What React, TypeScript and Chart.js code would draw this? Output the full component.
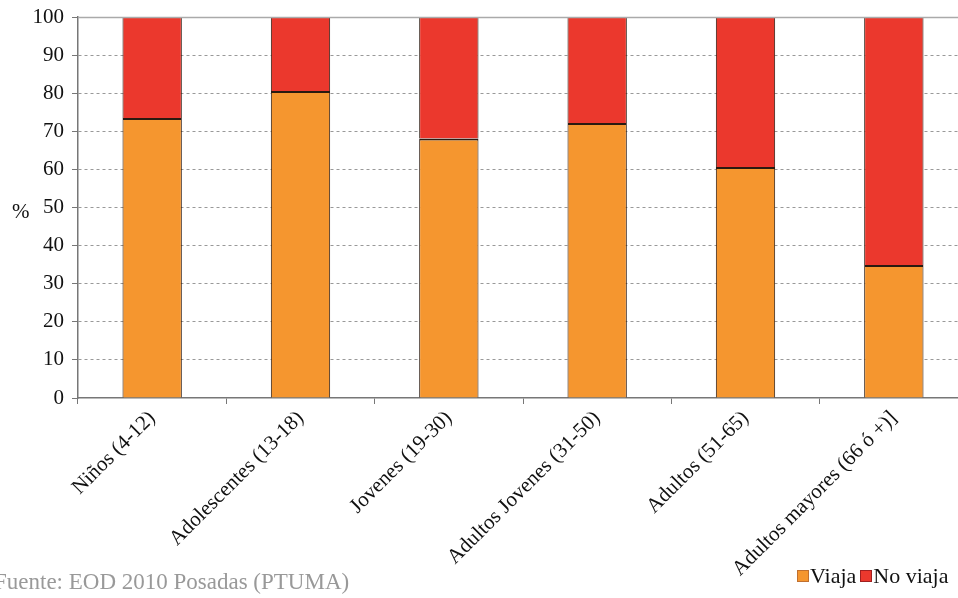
import React, { useEffect, useRef } from "react";
import { Chart, registerables } from "chart.js";

Chart.register(...registerables);

const categories = [
  "Niños (4-12)",
  "Adolescentes (13-18)",
  "Jovenes (19-30)",
  "Adultos Jovenes (31-50)",
  "Adultos (51-65)",
  "Adultos mayores (66 ó +)]",
];
const viaja = [73.5, 80.6, 68.1, 72.2, 60.6, 34.9];
const noViaja = [26.5, 19.4, 31.9, 27.8, 39.4, 65.1];
const seriesNames = ["Viaja", "No viaja"];
const yTicks = [0, 10, 20, 30, 40, 50, 60, 70, 80, 90, 100];

const ORANGE = "#F5962F";
const RED = "#EB382D";
const FONT = "'Liberation Serif', 'DejaVu Serif', serif";

const topLine = {
  id: "topLine",
  afterDatasetsDraw(chart: any) {
    const { ctx, chartArea } = chart;
    ctx.save();
    ctx.strokeStyle = "#aaaaaa";
    ctx.lineWidth = 1.5;
    ctx.beginPath();
    ctx.moveTo(chartArea.left, chartArea.top + 0.5);
    ctx.lineTo(chartArea.right + 5, chartArea.top + 0.5);
    ctx.stroke();
    ctx.restore();
  },
};

export default function App() {
  const ref = useRef<HTMLCanvasElement | null>(null);

  useEffect(() => {
    document.body.style.margin = "0";
    document.body.style.overflow = "hidden";
    const chart = new Chart(ref.current as HTMLCanvasElement, {
      type: "bar",
      data: {
        labels: categories,
        datasets: [
          {
            label: seriesNames[0],
            data: viaja,
            backgroundColor: ORANGE,
            borderColor: "#2a1a10",
            borderWidth: { top: 2, left: 1, right: 1, bottom: 0 },
            borderSkipped: false,
            barPercentage: 0.4,
            categoryPercentage: 1,
          },
          {
            label: seriesNames[1],
            data: noViaja,
            backgroundColor: RED,
            borderColor: "#2a1a10",
            borderWidth: { top: 0, left: 1, right: 1, bottom: 0 },
            borderSkipped: false,
            barPercentage: 0.4,
            categoryPercentage: 1,
          },
        ],
      },
      options: {
        animation: false,
        responsive: false,
        maintainAspectRatio: false,
        layout: { padding: { top: 17, right: 2, left: 0, bottom: 0 } },
        plugins: {
          legend: { display: false },
          tooltip: { enabled: false },
        },
        scales: {
          x: {
            stacked: true,
            offset: true,
            grid: {
              display: true,
              offset: true,
              drawOnChartArea: false,
              drawTicks: true,
              tickLength: 6,
              color: "#777",
            },
            border: { display: true, color: "#777", width: 1.5 },
            ticks: {
              minRotation: 45,
              maxRotation: 45,
              autoSkip: false,
              padding: 2,
              color: "#111",
              font: { family: FONT, size: 21 },
            },
            afterFit(scale: any) {
              scale.height = 200;
            },
          },
          y: {
            stacked: true,
            min: 0,
            max: 100,
            afterBuildTicks(scale: any) {
              scale.ticks = yTicks.map((v) => ({ value: v }));
            },
            grid: {
              color: (c: any) =>
                c.tick && (c.tick.value === 0 || c.tick.value === 100) ? "rgba(0,0,0,0)" : "#999",
              tickColor: "#777",
              tickLength: 6,
              lineWidth: 1,
            },
            border: { display: true, color: "#777", width: 1.5, dash: [3, 3] },
            ticks: {
              padding: 8,
              color: "#111",
              font: { family: FONT, size: 21 },
            },
            afterFit(scale: any) {
              scale.width = 78;
              scale.paddingTop = 0;
              scale.paddingBottom = 0;
            },
          },
        },
      },
      plugins: [topLine],
    });
    return () => chart.destroy();
  }, []);

  const sq = (color: string, bc: string) => ({
    display: "inline-block",
    width: 12,
    height: 12,
    background: color,
    border: `1px solid ${bc}`,
    boxSizing: "border-box" as const,
    marginRight: 1,
  });

  return (
    <div style={{ position: "relative", width: 970, height: 598, fontFamily: FONT }}>
      <canvas ref={ref} width={970} height={598} style={{ display: "block" }} />
      <div style={{ position: "absolute", left: 12, top: 199, fontSize: 21, color: "#111" }}>%</div>
      <div
        style={{
          position: "absolute",
          left: -6,
          top: 569,
          fontSize: 23,
          color: "#999",
          whiteSpace: "nowrap",
        }}
      >
        Fuente: EOD 2010 Posadas (PTUMA)
      </div>
      <div
        style={{
          position: "absolute",
          left: 797,
          top: 563,
          fontSize: 22,
          color: "#111",
          whiteSpace: "nowrap",
          display: "flex",
          alignItems: "center",
        }}
      >
        <span style={sq(ORANGE, "#c07030")} />
        <span style={{ marginRight: 4 }}>{seriesNames[0]}</span>
        <span style={sq(RED, "#a02020")} />
        <span>{seriesNames[1]}</span>
      </div>
    </div>
  );
}
